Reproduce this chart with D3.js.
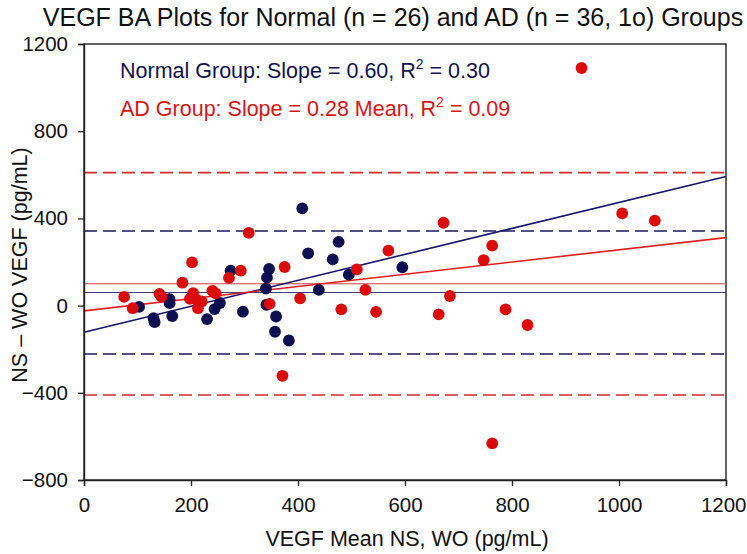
<!DOCTYPE html>
<html>
<head>
<meta charset="utf-8">
<script src="https://cdn.jsdelivr.net/npm/d3@7/dist/d3.min.js"></script>
<style>
  html, body { margin: 0; padding: 0; background: #fff; }
  svg { display: block; }
  text { font-family: "Liberation Sans", Arial, sans-serif; }
</style>
</head>
<body>
<svg id="chart" width="747" height="554"></svg>
<script>
// ---- data ----
const normalX = [103, 130, 132, 160, 160, 165, 230, 244, 254, 274, 297, 346, 342, 340, 341, 359, 357, 383, 408, 419, 439, 465, 476, 495, 595];
const normalY = [-6, -58, -76, 30, 11, -48, -62, -16, 12, 160, -28, 168, 128, 78, 4, -50, -120, -160, 446, 240, 72, 212, 292, 142, 176];

const adX = [75, 91, 141, 145, 184, 202, 204, 198, 210, 220, 213, 240, 246, 271, 293, 308, 347, 375, 371, 404, 481, 510, 526, 546, 569, 672, 663, 684, 747, 763, 763, 788, 829, 930, 1006, 1067];
const adY = [40, -12, 54, 41, 105, 198, 57, 31, 27, 19, -12, 68, 56, 127, 160, 334, 8, 177, -322, 33, -17, 166, 72, -29, 252, 380, -40, 44, 209, 275, -632, -17, -89, 1090, 423, 390];

const xTicks = [0, 200, 400, 600, 800, 1000, 1200];
const yTicks = [-800, -400, 0, 400, 800, 1200];

const normalMean = 60, normalLower = -222, normalUpper = 342;
const adMean = 100, adLower = -410, adUpper = 610;
const normalSlope = 0.595, normalIntercept = -122;
const adSlope = 0.28, adIntercept = -24;

const titleText = "VEGF BA Plots for Normal (n = 26) and AD (n = 36, 1o) Groups";
const xTitle = "VEGF Mean NS, WO (pg/mL)";
const yTitle = "NS \u2013 WO VEGF (pg/mL)";

// ---- layout ----
const svg = d3.select("#chart");
const pL = 84, pR = 726, pT = 44, pB = 480;
const x = d3.scaleLinear().domain([0, 1200]).range([pL, pR]);
const y = d3.scaleLinear().domain([-800, 1200]).range([pB, pT]);

const navy = "#0c0f50", red = "#dc0a0a";

// frame
svg.append("rect").attr("x", pL).attr("y", pT).attr("width", pR - pL).attr("height", pB - pT)
  .attr("fill", "none").attr("stroke", "#222").attr("stroke-width", 1.4);

// horizontal reference lines
function hline(v, color, w, dash) {
  svg.append("line").attr("x1", x(0)).attr("x2", x(1200)).attr("y1", y(v)).attr("y2", y(v))
    .attr("stroke", color).attr("stroke-width", w).attr("stroke-dasharray", dash || null);
}
hline(adUpper, "#d42a2a", 1.6, "13,6");
hline(adLower, "#d42a2a", 1.6, "13,6");
hline(normalUpper, "#1a1a5e", 1.6, "13,6");
hline(normalLower, "#1a1a5e", 1.6, "13,6");
hline(adMean, "#cc3b3b", 1, null);
hline(normalMean, "#3a3a78", 1, null);

// regression lines
function regLine(slope, intercept, color) {
  svg.append("line").attr("x1", x(0)).attr("x2", x(1200))
    .attr("y1", y(intercept)).attr("y2", y(intercept + slope * 1200))
    .attr("stroke", color).attr("stroke-width", 1.6);
}
regLine(normalSlope, normalIntercept, "#14146a");
regLine(adSlope, adIntercept, "#e01f1f");

// points
svg.append("g").selectAll("circle").data(normalX.map((d, i) => [d, normalY[i]])).join("circle")
  .attr("cx", d => x(d[0])).attr("cy", d => y(d[1])).attr("r", 5.9).attr("fill", navy);
svg.append("g").selectAll("circle").data(adX.map((d, i) => [d, adY[i]])).join("circle")
  .attr("cx", d => x(d[0])).attr("cy", d => y(d[1])).attr("r", 5.9).attr("fill", red);

// axes
const xAxis = d3.axisBottom(x).tickValues(xTicks).tickSize(6).tickPadding(11).tickFormat(d3.format("d"));
const gx = svg.append("g").attr("transform", `translate(0,${pB})`).call(xAxis);
const yAxis = d3.axisLeft(y).tickValues(yTicks).tickSize(6).tickPadding(10).tickFormat(d3.format("d"));
const gy = svg.append("g").attr("transform", `translate(${pL},0)`).call(yAxis);
[gx, gy].forEach(g => {
  g.select(".domain").attr("stroke", "#222").attr("stroke-width", 1.4);
  g.selectAll(".tick line").attr("stroke", "#222").attr("stroke-width", 1.3);
  g.selectAll(".tick text").attr("font-size", 20.5).attr("fill", "#111")
    .attr("font-family", "'Liberation Sans', Arial, sans-serif");
});
// keep the last x label inside the picture
gx.selectAll(".tick text").filter(d => d === 1200).attr("text-anchor", "end").attr("x", 20);

// title
svg.append("text").attr("x", 393).attr("y", 26).attr("text-anchor", "middle")
  .attr("font-size", 25).attr("fill", "#111").text(titleText);

// axis titles
svg.append("text").attr("x", 407).attr("y", 546).attr("text-anchor", "middle")
  .attr("font-size", 21.5).attr("fill", "#111").text(xTitle);
svg.append("text").attr("transform", "translate(27,265) rotate(-90)").attr("text-anchor", "middle")
  .attr("font-size", 21.5).attr("fill", "#111").text(yTitle);

// legend text
function legend(yPos, color, parts) {
  const t = svg.append("text").attr("x", 120).attr("y", yPos).attr("font-size", 21.5).attr("fill", color);
  t.append("tspan").text(parts[0]);
  t.append("tspan").attr("font-size", 14).attr("dy", -9).text("2");
  t.append("tspan").attr("dy", 9).text(parts[1]);
}
legend(78, "#12124e", ["Normal Group: Slope = 0.60, R", " = 0.30"]);
legend(116, "#d81515", ["AD Group: Slope = 0.28 Mean, R", " = 0.09"]);
</script>
</body>
</html>
